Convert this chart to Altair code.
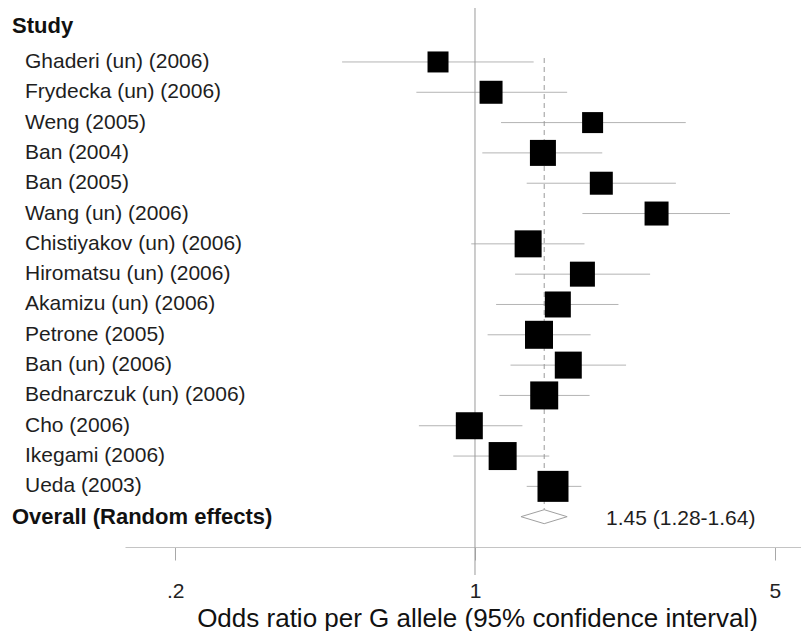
import altair as alt
import pandas as pd

# ---------------- data ----------------
header = "Study"
studies = [
    "Ghaderi (un) (2006)", "Frydecka (un) (2006)", "Weng (2005)", "Ban (2004)",
    "Ban (2005)", "Wang (un) (2006)", "Chistiyakov (un) (2006)",
    "Hiromatsu (un) (2006)", "Akamizu (un) (2006)", "Petrone (2005)",
    "Ban (un) (2006)", "Bednarczuk (un) (2006)", "Cho (2006)",
    "Ikegami (2006)", "Ueda (2003)",
]
odds_ratio = [0.82, 1.09, 1.88, 1.44, 1.97, 2.65, 1.33, 1.78, 1.56, 1.41, 1.65, 1.45, 0.97, 1.16, 1.52]
ci_lower   = [0.49, 0.73, 1.15, 1.04, 1.32, 1.78, 0.98, 1.24, 1.12, 1.07, 1.21, 1.14, 0.74, 0.89, 1.32]
ci_upper   = [1.37, 1.64, 3.10, 1.98, 2.94, 3.93, 1.80, 2.56, 2.16, 1.86, 2.25, 1.85, 1.29, 1.49, 1.77]
box_side   = [21, 23, 21, 26, 23, 24, 27, 25, 26, 28, 27, 28, 27, 28, 31]

overall_label = "Overall (Random effects)"
overall_or = 1.45
overall_lower = 1.28
overall_upper = 1.64
overall_text = "1.45 (1.28-1.64)"

tick_values = [0.2, 1, 5]
tick_labels = [".2", "1", "5"]
x_title = "Odds ratio per G allele (95% confidence interval)"

# ---------------- tables ----------------
rows = list(range(1, len(studies) + 1))
overall_row = len(studies) + 1
df = pd.DataFrame({
    "study": studies, "or": odds_ratio, "lo": ci_lower, "hi": ci_upper,
    "side": box_side, "row": rows,
})
df["area"] = df["side"] ** 2

bold_df = pd.DataFrame({"label": [header, overall_label], "row": [-0.19, overall_row]})
ref_df = pd.DataFrame({"v": [1.0]})
dash_df = pd.DataFrame({"v": [overall_or], "y0": [0.87], "y1": [overall_row - 0.23]})
half_h = 0.23
diamond_df = pd.DataFrame({
    "x": [overall_lower, overall_or, overall_upper, overall_or, overall_lower],
    "y": [overall_row, overall_row - half_h, overall_row, overall_row + half_h, overall_row],
    "o": [0, 1, 2, 3, 4],
})
ov_text_df = pd.DataFrame({"t": [overall_text], "row": [overall_row]})

FONT = "Liberation Sans"
xs = alt.Scale(type="log", domain=[0.1528, 5.754], nice=False)
ys = alt.Scale(domain=[-0.78, 17], reverse=True, nice=False, zero=False)

label_expr = "''"
for v, l in reversed(list(zip(tick_values, tick_labels))):
    label_expr = f"datum.value == {v} ? '{l}' : {label_expr}"

xaxis = alt.Axis(
    values=tick_values, labelExpr=label_expr, grid=False,
    domainColor="#c4c4c4", domainWidth=1.2, tickColor="#a8a8a8", tickSize=13,
    labelFontSize=21, labelFont=FONT, labelColor="#222222", labelPadding=31,
    labelBaseline="middle", labelFlush=False,
    titleFont=FONT, titleFontSize=26, titleFontWeight="normal", titleColor="#111111",
    titleX=352, titleY=71, titleBaseline="middle", titleAlign="center",
)


def X(field):
    return alt.X(field, type="quantitative", scale=xs, axis=xaxis, title=x_title)


def Y(field):
    return alt.Y(field, type="quantitative", scale=ys, axis=None)


ci = alt.Chart(df).mark_rule(color="#b4b4b4", strokeWidth=1).encode(
    x=X("lo"), x2="hi", y=Y("row"))

ref = alt.Chart(ref_df).mark_rule(color="#9a9a9a", strokeWidth=1).encode(
    x=X("v"), y=alt.value(0), y2=alt.value(567))

dash = alt.Chart(dash_df).mark_rule(color="#9a9a9a", strokeWidth=1, strokeDash=[5, 4]).encode(
    x=X("v"), y=Y("y0"), y2="y1")

boxes = alt.Chart(df).mark_square(color="black", opacity=1, strokeWidth=0).encode(
    x=X("or"), y=Y("row"), size=alt.Size("area:Q", scale=None))

diamond = alt.Chart(diamond_df).mark_line(color="#a0a0a0", strokeWidth=1).encode(
    x=X("x"), y=Y("y"), order="o:Q")

labels = alt.Chart(df).mark_text(
    align="left", baseline="middle", fontSize=21, font=FONT, color="#1e1e1e").encode(
    x=alt.value(-100), y=Y("row"), text="study:N")

bold_labels = alt.Chart(bold_df).mark_text(
    align="left", baseline="middle", fontSize=22, font=FONT, fontWeight="bold", color="#111111").encode(
    x=alt.value(-113), y=Y("row"), text="label:N")

ov_text = alt.Chart(ov_text_df).mark_text(
    align="left", baseline="middle", fontSize=21, font=FONT, color="#1e1e1e", dy=2).encode(
    x=alt.value(481), y=Y("row"), text="t:N")

chart = alt.layer(ci, ref, dash, diamond, boxes, labels, bold_labels, ov_text).properties(
    width=676, height=539,
    padding={"left": 117, "top": 0, "right": 0, "bottom": 90},
    autosize="none",
    background="white",
).configure_view(stroke=None)

chart.save("out.html", embed_options={"renderer": "svg", "actions": False})
